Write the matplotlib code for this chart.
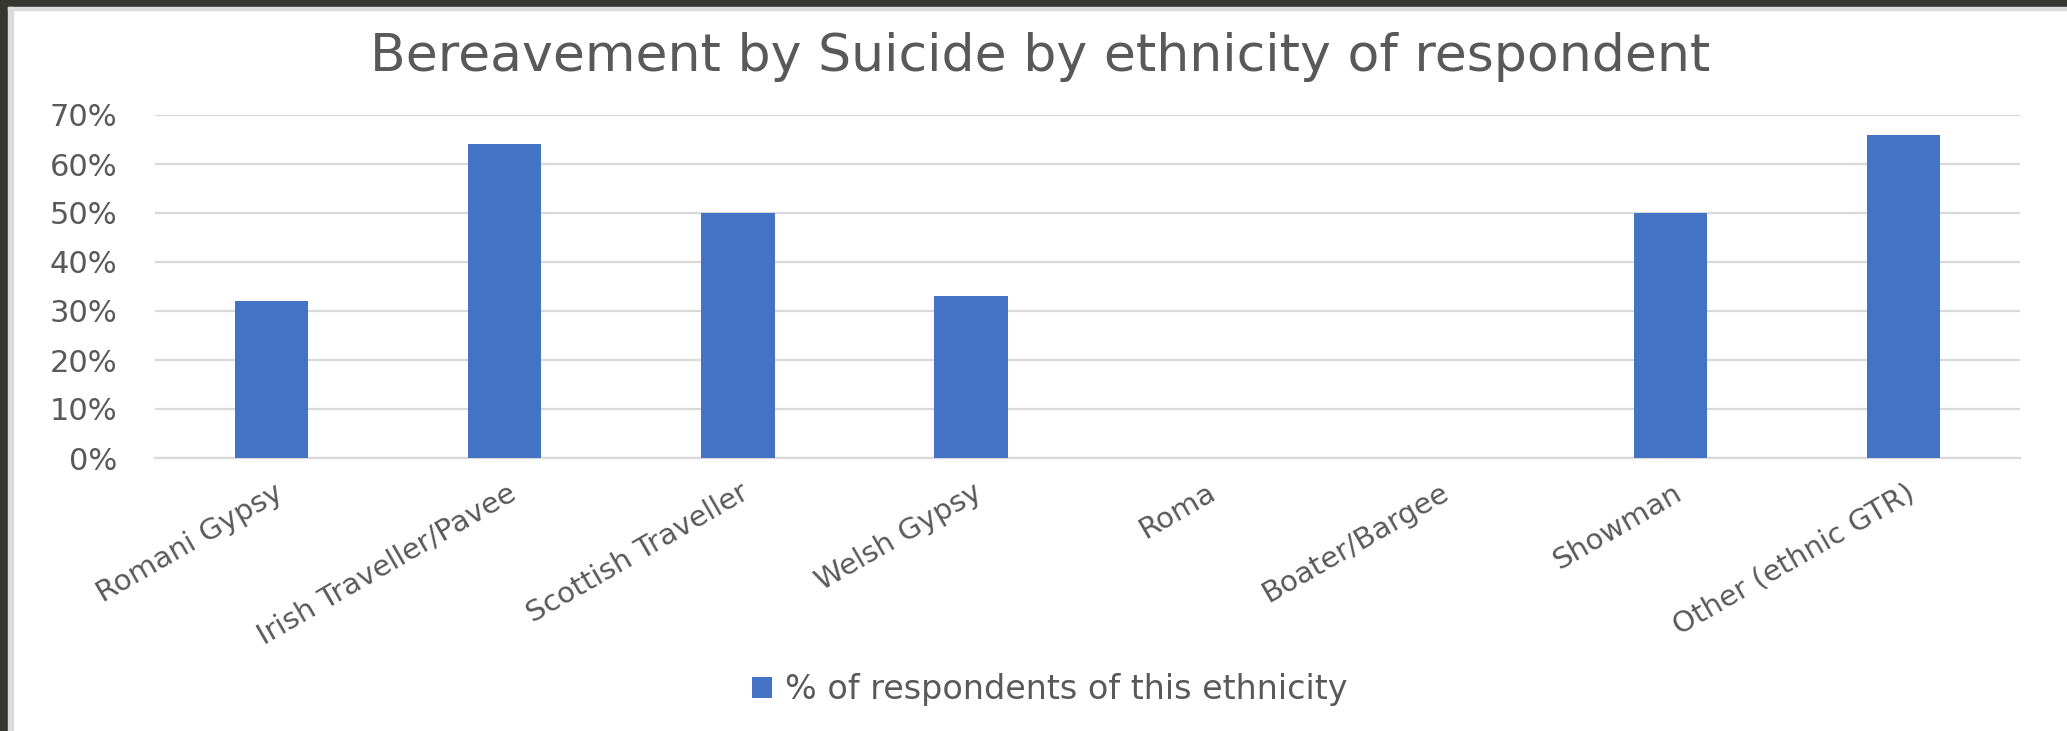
import matplotlib

matplotlib.use("Agg")
import matplotlib.pyplot as plt  # noqa: E402
from matplotlib.patches import Rectangle  # noqa: E402
from matplotlib.transforms import ScaledTranslation  # noqa: E402

plt.rcParams["font.family"] = ["DejaVu Sans"]

ethnicities = [
    "Romani Gypsy",
    "Irish Traveller/Pavee",
    "Scottish Traveller",
    "Welsh Gypsy",
    "Roma",
    "Boater/Bargee",
    "Showman",
    "Other (ethnic GTR)",
]
pct_bereaved = [32, 64, 50, 33, 0, 0, 50, 66]
y_ticks = [0, 10, 20, 30, 40, 50, 60, 70]

BAR = "#4472c4"
TEXT = "#595959"
GRID = "#d9d9d9"
FRAME = "#353730"

W, H = 2067, 731
fig = plt.figure(figsize=(W / 100, H / 100), dpi=100, facecolor="white")

# window frame around the chart
fig.patches.append(Rectangle((0, 0), 8 / W, 1, transform=fig.transFigure, color=FRAME, zorder=0))
fig.patches.append(Rectangle((0, 1 - 7 / H), 1, 7 / H, transform=fig.transFigure, color=FRAME, zorder=0))
fig.patches.append(Rectangle((8 / W, 0), 5 / W, 1 - 7 / H, transform=fig.transFigure, color="#dcdcdc", zorder=0))
fig.patches.append(Rectangle((8 / W, 1 - 10 / H), 1, 3 / H, transform=fig.transFigure, color="#dcdcdc", zorder=0))

ax = fig.add_axes([155 / W, 1 - 458 / H, (2020 - 155) / W, (458 - 115) / H])
x = range(len(ethnicities))
ax.bar(x, pct_bereaved, width=0.315, color=BAR, zorder=3,
       label="% of respondents of this ethnicity")

ax.set_xlim(-0.5, len(ethnicities) - 0.5)
ax.set_ylim(0, 70)
ax.set_yticks(y_ticks)
ax.set_yticklabels([f"{v}%" for v in y_ticks])
ax.yaxis.grid(True, color=GRID, lw=1.6, zorder=0)
ax.set_axisbelow(True)
for side in ("top", "right", "left"):
    ax.spines[side].set_visible(False)
ax.spines["bottom"].set_color(GRID)
ax.spines["bottom"].set_linewidth(1.6)
ax.tick_params(axis="both", length=0, colors=TEXT, labelsize=21)
ax.tick_params(axis="y", labelsize=22, pad=27)

ax.set_xticks(list(x))
ax.set_xticklabels(ethnicities, rotation=30, ha="right", va="center", rotation_mode="anchor")
shift = ScaledTranslation(0.09, -0.28, fig.dpi_scale_trans)
for lbl in ax.get_xticklabels():
    lbl.set_transform(lbl.get_transform() + shift)

fig.text(1040 / W, 1 - 57 / H, "Bereavement by Suicide by ethnicity of respondent",
         ha="center", va="center", fontsize=37.5, color=TEXT)

fig.legend(loc="center", bbox_to_anchor=(1050 / W, 1 - 690 / H), frameon=False,
           fontsize=24, labelcolor=TEXT, handlelength=0.6, handleheight=0.6, handletextpad=0.4)

fig.savefig("out.png", dpi=100, facecolor="white")
